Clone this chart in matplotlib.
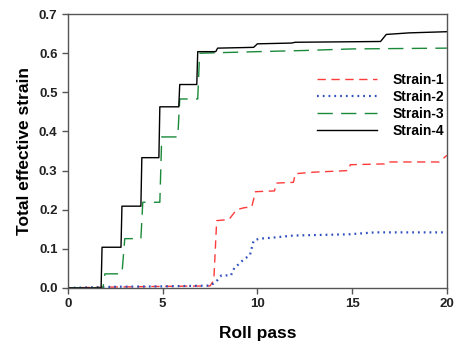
import matplotlib
matplotlib.use("Agg")
import matplotlib.pyplot as plt

plt.rcParams['font.family'] = ['Liberation Sans', 'DejaVu Sans']
plt.rcParams['font.weight'] = 'bold'

# Strain-1 (red dashed)
x1 = [0, 2.0, 5.0, 7.5, 7.7, 7.85, 8.5, 8.9, 9.3, 9.7, 9.9, 10.9, 11.0, 11.9, 12.0, 13.0, 14.8, 14.9, 16.7, 16.8, 19.6, 20]
y1 = [0, 0.002, 0.004, 0.005, 0.02, 0.172, 0.175, 0.2, 0.205, 0.207, 0.246, 0.248, 0.268, 0.27, 0.292, 0.296, 0.3, 0.315, 0.317, 0.322, 0.322, 0.339]

# Strain-2 (blue dotted)
x2 = [0, 2.5, 5.0, 7.5, 7.8, 8.1, 8.6, 8.8, 9.0, 9.3, 9.6, 9.8, 10.1, 10.7, 11.9, 14.8, 16.2, 20]
y2 = [0, 0.003, 0.004, 0.006, 0.015, 0.032, 0.032, 0.053, 0.06, 0.074, 0.083, 0.121, 0.126, 0.128, 0.134, 0.137, 0.142, 0.142]

# Strain-3 (green long dash)
x3 = [0, 1.85, 1.95, 2.85, 3.0, 3.85, 3.95, 4.85, 4.95, 5.8, 5.9, 6.85, 6.95, 10.0, 12.5, 15, 20]
y3 = [0, 0, 0.036, 0.036, 0.126, 0.126, 0.219, 0.219, 0.386, 0.386, 0.483, 0.483, 0.600, 0.604, 0.607, 0.611, 0.613]

# Strain-4 (black solid)
x4 = [0, 1.75, 1.8, 2.8, 2.85, 3.85, 3.9, 4.8, 4.85, 5.85, 5.9, 6.8, 6.85, 7.8, 7.9, 9.8, 10.0, 11.8, 12.0, 16.5, 16.8, 18.0, 20]
y4 = [0, 0, 0.104, 0.104, 0.209, 0.209, 0.333, 0.333, 0.463, 0.463, 0.52, 0.52, 0.604, 0.604, 0.613, 0.615, 0.624, 0.626, 0.628, 0.63, 0.648, 0.652, 0.655]

xticks = [0, 5, 10, 15, 20]
yticks = [0.0, 0.1, 0.2, 0.3, 0.4, 0.5, 0.6, 0.7]

fig = plt.figure(figsize=(4.56, 3.44), dpi=100)
ax = fig.add_axes([0.149, 0.163, 0.831, 0.796])

ax.plot(x1, y1, color='#ff3b3b', lw=1.0, dashes=(6, 4), label='Strain-1')
ax.plot(x2, y2, color='#2f4fbf', lw=1.6, dashes=(0.8, 1.8), label='Strain-2')
ax.plot(x3, y3, color='#1a8a3a', lw=1.0, dashes=(11, 6), label='Strain-3')
ax.plot(x4, y4, color='black', lw=1.0, label='Strain-4')

ax.set_xlim(0, 20)
ax.set_ylim(0, 0.7)
ax.set_xticks(xticks)
ax.set_yticks(yticks)
ax.set_yticklabels(['%.1f' % v for v in yticks])
ax.tick_params(direction='out', length=4, width=1, colors='#555555',
               labelcolor='#222222', labelsize=9.5, top=False, right=False)
for s in ax.spines.values():
    s.set_color('#555555')
    s.set_linewidth(1.0)

ax.set_xlabel('Roll pass', fontsize=12.5, fontweight='bold', labelpad=11)
ax.set_ylabel('Total effective strain', fontsize=12.5, fontweight='bold', labelpad=5)

ax.legend(loc='upper left', bbox_to_anchor=(0.625, 0.832), frameon=False,
          handlelength=4.3, handletextpad=1.1, labelspacing=0.22,
          prop={'weight': 'bold', 'size': 10})

fig.savefig('out.png', dpi=100)
